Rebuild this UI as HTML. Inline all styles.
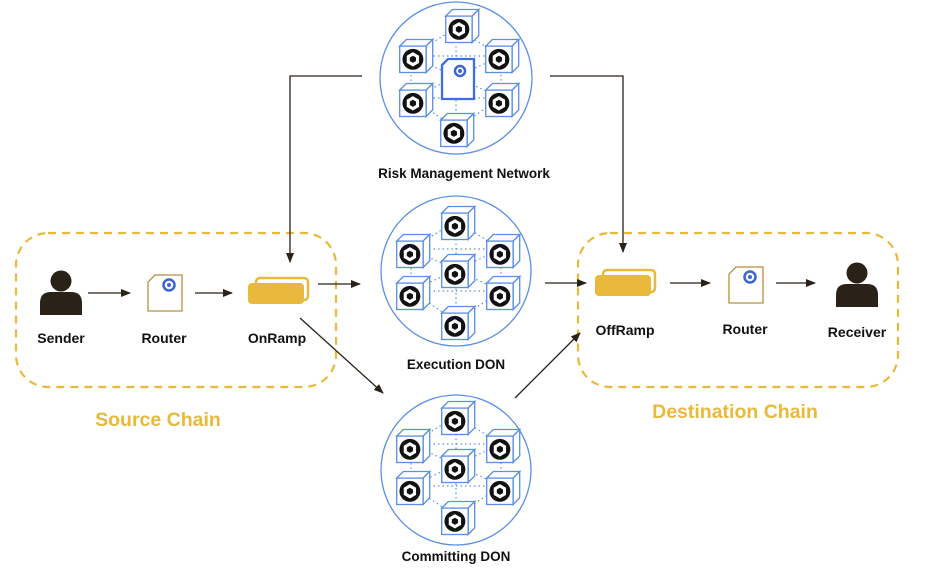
<!DOCTYPE html>
<html><head><meta charset="utf-8"><style>
html,body{margin:0;padding:0;background:#fff;width:940px;height:579px;overflow:hidden}
text{font-family:"Liberation Sans",sans-serif;font-weight:bold}
</style></head><body>
<svg width="940" height="579" viewBox="0 0 940 579" xmlns="http://www.w3.org/2000/svg">
<defs>
<marker id="ar" markerWidth="10" markerHeight="10" refX="9" refY="5" orient="auto" markerUnits="userSpaceOnUse">
<path d="M0,1 L10,5 L0,9 Z" fill="#2a2118"/></marker>
<g id="cube0">
<path d="M-13,-9 L-7,-15 L17,-15 L11,-9 Z" fill="#fff" stroke="#5b8fe6" stroke-width="1.2"/>
<path d="M11,-9 L17,-15 L17,9 L11,15 Z" fill="#fff" stroke="#5b8fe6" stroke-width="1.2"/>
<rect x="-13" y="-9" width="24" height="24" fill="#fff" stroke="#5b8fe6" stroke-width="1.2"/>
<circle cx="-1" cy="3" r="9.5" fill="#111"/>
<path d="M-1,-3.5 L4.6,-0.2 L4.6,6.2 L-1,9.5 L-6.6,6.2 L-6.6,-0.2 Z" fill="#fff"/>
<path d="M-1,-0.2 L1.8,1.4 L1.8,4.6 L-1,6.2 L-3.8,4.6 L-3.8,1.4 Z" fill="#111"/>
</g>
<g id="cube"><use href="#cube0" transform="scale(1.1)"/></g>
<g id="dots" stroke="#5b8fe6" stroke-width="1.2" stroke-dasharray="1.5 3" fill="none">
<path d="M0,-50 L-45,-22 L-45,20 L0,50 L45,20 L45,-22 Z M0,-50 L0,50 M-45,-22 L45,20 M45,-22 L-45,20 M-45,-22 L45,-22 M-45,20 L45,20"/>
</g>
<g id="don">
<use href="#dots"/>
<use href="#cube" x="0" y="-48"/>
<use href="#cube" x="-45" y="-20"/>
<use href="#cube" x="45" y="-20"/>
<use href="#cube" x="-45" y="22"/>
<use href="#cube" x="45" y="22"/>
<use href="#cube" x="0" y="52"/>
</g>
<g id="doc">
<path d="M-10,-18 L17,-18 L17,18 L-17,18 L-17,-11 Z" fill="#fff" stroke="#b98f3f" stroke-width="1.3"/>
<circle cx="4" cy="-8" r="5.5" fill="none" stroke="#3d63d8" stroke-width="2.5"/>
<circle cx="4" cy="-8" r="2" fill="#3d63d8"/>
</g>
<g id="person">
<circle cx="0" cy="-12" r="10.5" fill="#2a2118"/>
<path d="M-21,22 L-21,10 Q-21,-1 -10,-1 L10,-1 Q21,-1 21,10 L21,22 Z" fill="#2a2118"/>
</g>
<g id="ramp">
<rect x="-22" y="-13" width="52" height="22" rx="4" fill="#fff" stroke="#e8b93a" stroke-width="2.5"/>
<rect x="-30" y="-8" width="56" height="21" rx="4" fill="#e8b93a"/>
</g>
</defs>

<rect x="16" y="233" width="320" height="154" rx="32" fill="none" stroke="#e8b93a" stroke-width="2.2" stroke-dasharray="8 6"/>
<rect x="578" y="233" width="320" height="154" rx="32" fill="none" stroke="#e8b93a" stroke-width="2.2" stroke-dasharray="8 6"/>
<text x="158" y="426" font-size="19.5" fill="#e8b93a" text-anchor="middle">Source Chain</text>
<text x="735" y="418" font-size="19.5" fill="#e8b93a" text-anchor="middle">Destination Chain</text>

<circle cx="456" cy="78" r="76" fill="#fff" stroke="#5b8fe6" stroke-width="1.3"/>
<circle cx="456" cy="271" r="75" fill="#fff" stroke="#5b8fe6" stroke-width="1.3"/>
<circle cx="456" cy="470" r="75" fill="#fff" stroke="#5b8fe6" stroke-width="1.3"/>

<g transform="translate(456,78)">
<use href="#dots"/>
<use href="#cube" x="4" y="-52"/>
<use href="#cube" x="-42" y="-22"/>
<use href="#cube" x="44" y="-22"/>
<use href="#cube" x="-42" y="22"/>
<use href="#cube" x="44" y="22"/>
<use href="#cube" x="-1" y="52"/>
<path d="M-8,-19 L18,-19 L18,21 L-14,21 L-14,-13 Z" fill="#fff" stroke="#3d6fe0" stroke-width="2.3"/>
<circle cx="4" cy="-7" r="5" fill="none" stroke="#3d63d8" stroke-width="2.5"/>
<circle cx="4" cy="-7" r="2" fill="#3d63d8"/>
</g>
<use href="#don" x="456" y="271"/>
<use href="#cube" x="456" y="271"/>
<use href="#don" x="456" y="466"/>
<use href="#cube" x="456" y="466"/>

<text x="464" y="178" font-size="13.5" fill="#111" text-anchor="middle">Risk Management Network</text>
<text x="456" y="369" font-size="13.5" fill="#111" text-anchor="middle">Execution DON</text>
<text x="456" y="561" font-size="13.5" fill="#111" text-anchor="middle">Committing DON</text>

<use href="#person" x="61" y="293"/>
<use href="#doc" x="165" y="293"/>
<use href="#ramp" x="278" y="291"/>
<text x="61" y="343" font-size="14" fill="#111" text-anchor="middle">Sender</text>
<text x="164" y="343" font-size="14" fill="#111" text-anchor="middle">Router</text>
<text x="277" y="343" font-size="14" fill="#111" text-anchor="middle">OnRamp</text>

<use href="#ramp" x="625" y="283"/>
<use href="#doc" x="746" y="285"/>
<use href="#person" x="857" y="285"/>
<text x="625" y="335" font-size="14" fill="#111" text-anchor="middle">OffRamp</text>
<text x="745" y="334" font-size="14" fill="#111" text-anchor="middle">Router</text>
<text x="857" y="337" font-size="14" fill="#111" text-anchor="middle">Receiver</text>

<g stroke="#2a2118" stroke-width="1.3" fill="none" marker-end="url(#ar)">
<line x1="88" y1="293" x2="130" y2="293"/>
<line x1="195" y1="293" x2="232" y2="293"/>
<line x1="318" y1="284" x2="360" y2="284"/>
<polyline points="362,76 290,76 290,262"/>
<polyline points="550,76 623,76 623,252"/>
<line x1="300" y1="318" x2="383" y2="393"/>
<line x1="515" y1="398" x2="580" y2="333"/>
<line x1="545" y1="283" x2="586" y2="283"/>
<line x1="670" y1="283" x2="710" y2="283"/>
<line x1="776" y1="283" x2="815" y2="283"/>
</g>
</svg>
</body></html>
